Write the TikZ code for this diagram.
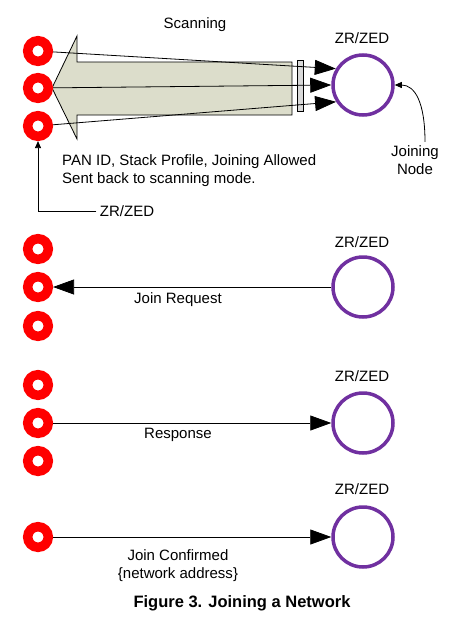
\documentclass[tikz,border=0pt]{standalone}
\usepackage{fontspec}
\setmainfont{Liberation Sans}
\usetikzlibrary{positioning, arrows.meta}
\definecolor{zedpurple}{HTML}{7030A0}
\definecolor{scanfill}{HTML}{DCDDCB}
\definecolor{barfill}{HTML}{D9D9D9}

\begin{document}
\begin{tikzpicture}[
  x=1pt, y=-1pt,
  every node/.style={font=\fontsize{15}{18}\selectfont},
  router/.style={
    circle, draw=red, line width=9.5pt, fill=white,
    minimum size=20.6pt, inner sep=0pt
  },
  joiner/.style={
    circle, draw=zedpurple, line width=3.5pt,
    minimum size=60pt, inner sep=0pt
  },
  msg/.style={line width=0.8pt, -{Triangle[length=21pt, width=15pt]}},
  note/.style={line width=0.8pt, -{Triangle[length=7pt, width=6pt]}},
  caption/.style={font=\fontsize{16.5}{20}\selectfont\bfseries}
]
\useasboundingbox (0,0) rectangle (463,621);

% ---- Scanning (top) ----
\draw[fill=scanfill, line width=0.8pt]
  (52,88) -- (77,36) -- (77,62) -- (292,62) -- (292,115)
  -- (77,115) -- (77,139) -- cycle;
\draw[fill=barfill, line width=0.8pt] (297,60) rectangle (303,111);

\node[router] (ra1) at (38,51) {};
\node[router] (ra2) at (38,88) {};
\node[router] (ra3) at (38,126) {};
\node[joiner] (za) at (363,85) {};

\node (scan) at (195,25) {Scanning};
\node (zalbl) at (362,38) {ZR/ZED};
\node[align=left, anchor=north west, inner sep=0pt] (beacon) at (62,154)
  {PAN ID, Stack Profile, Joining Allowed\\Sent back to scanning mode.};
\node (ralbl) at (127,211) {ZR/ZED};
\node[align=center] (jn) at (415,160) {Joining\\Node};

\draw[msg] (ra1) -- (za.149);
\draw[msg] (ra2) -- (za.west);
\draw[msg] (ra3) -- (za.212);

\draw[note] (ralbl.west) -| (ra3.south);
\draw[note] ([xshift=10pt]jn.north) .. controls +(0,-40) and +(20,0) .. (za.east);

% ---- Join request ----
\node[router] (rb1) at (38,249) {};
\node[router] (rb2) at (38,287) {};
\node[router] (rb3) at (38,326) {};
\node[joiner] (zb) at (363,287) {};
\node (zblbl) at (362,242) {ZR/ZED};

\draw[msg] (zb) -- (rb2);
\node (req) at (178,300) {Join Request};

% ---- Response ----
\node[router] (rc1) at (38,385) {};
\node[router] (rc2) at (38,423) {};
\node[router] (rc3) at (38,461) {};
\node[joiner] (zc) at (363,423) {};
\node (zclbl) at (362,376) {ZR/ZED};

\draw[msg] (rc2) -- (zc);
\node (resp) at (178,435) {Response};

% ---- Join confirmed ----
\node[router] (rd) at (38,537) {};
\node[joiner] (zd) at (363,537) {};
\node (zdlbl) at (362,489) {ZR/ZED};

\draw[msg] (rd) -- (zd);
\node[align=center] (conf) at (178,566)
  {Join Confirmed\\\{network address\}};

% ---- Caption ----
\node[caption] (fig) at (242,603) {Figure 3. Joining a Network};

\end{tikzpicture}
\end{document}
